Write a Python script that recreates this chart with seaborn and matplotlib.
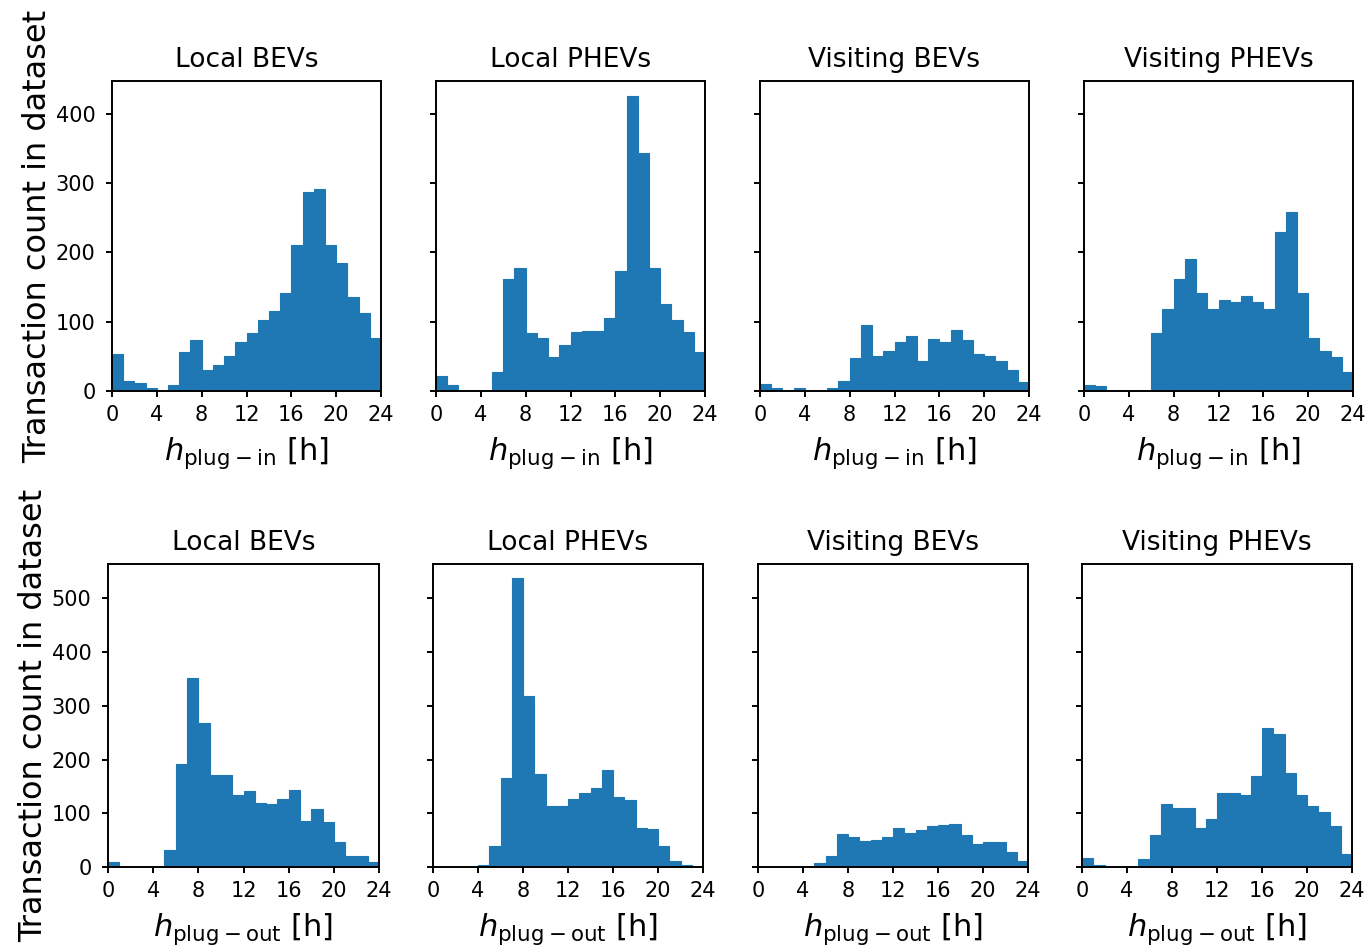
import numpy as np
import pandas as pd
import matplotlib
matplotlib.use("Agg")
import matplotlib.pyplot as plt
import seaborn as sns

hours = np.arange(24) + 0.5
groups = ["Local BEVs", "Local PHEVs", "Visiting BEVs", "Visiting PHEVs"]

# counts per hour bin
plugInLocalBEV = [53, 15, 11, 4, 0, 9, 56, 73, 31, 37, 50, 70, 83, 102, 116, 142, 210, 287, 292, 210, 184, 135, 113, 77]
plugInLocalPHEV = [21, 8, 0, 0, 0, 27, 162, 177, 83, 77, 49, 66, 85, 86, 86, 106, 173, 426, 344, 178, 125, 102, 85, 56]
plugInVisitBEV = [10, 5, 0, 4, 0, 0, 5, 15, 47, 95, 50, 57, 70, 80, 44, 75, 70, 88, 73, 53, 51, 44, 31, 13]
plugInVisitPHEV = [8, 7, 0, 0, 0, 0, 83, 118, 162, 191, 142, 119, 132, 129, 137, 129, 118, 229, 259, 142, 77, 57, 49, 27]

plugOutLocalBEV = [9, 0, 0, 0, 0, 31, 192, 352, 268, 171, 171, 134, 141, 119, 117, 126, 143, 85, 108, 83, 46, 20, 20, 9]
plugOutLocalPHEV = [0, 0, 0, 0, 3, 40, 165, 537, 318, 173, 113, 113, 126, 137, 147, 180, 130, 124, 72, 70, 40, 11, 3, 0]
plugOutVisitBEV = [0, 0, 0, 0, 0, 7, 20, 61, 55, 48, 50, 55, 72, 63, 68, 76, 78, 80, 59, 42, 46, 46, 27, 11]
plugOutVisitPHEV = [16, 3, 0, 0, 0, 14, 59, 117, 109, 109, 72, 89, 137, 137, 134, 169, 259, 248, 175, 134, 113, 102, 76, 25]

rows = [
    ([plugInLocalBEV, plugInLocalPHEV, plugInVisitBEV, plugInVisitPHEV], r"$h_{\rm plug-in}$ [h]"),
    ([plugOutLocalBEV, plugOutLocalPHEV, plugOutVisitBEV, plugOutVisitPHEV], r"$h_{\rm plug-out}$ [h]"),
]

sns.set_theme(style="ticks", rc={
    "axes.edgecolor": "black",
    "axes.linewidth": 1.4,
    "xtick.major.width": 1.4,
    "ytick.major.width": 1.4,
    "xtick.major.size": 4.3,
    "ytick.major.size": 4.3,
    "xtick.major.pad": 6,
    "ytick.major.pad": 7.5,
    "xtick.color": "black",
    "ytick.color": "black",
    "text.color": "black",
    "axes.labelcolor": "black",
})
plt.rcParams["font.family"] = ["DejaVu Sans"]
plt.rcParams["mathtext.fontset"] = "dejavusans"

fig = plt.figure(figsize=(13.71, 9.48), dpi=100)

# axes boxes in pixels (left, top, right, bottom)
boxes = [
    [(112, 81, 381, 391), (436, 81, 705, 391), (760, 81, 1029, 391), (1084, 81, 1353, 391)],
    [(108, 564, 379, 867), (433, 564, 703, 867), (758, 564, 1028, 867), (1082, 564, 1352, 867)],
]
W, H = 1371.0, 948.0

for r, (series, xLabel) in enumerate(rows):
    first = None
    for c, counts in enumerate(series):
        l, t, rr, b = boxes[r][c]
        ax = fig.add_axes([l / W, 1 - b / H, (rr - l) / W, (b - t) / H], sharey=first)
        if first is None:
            first = ax
        df = pd.DataFrame({"hour": hours, "count": np.asarray(counts, dtype=float)})
        sns.histplot(data=df, x="hour", weights="count", binwidth=1, binrange=(0, 24),
                     color="#1f77b4", alpha=1, edgecolor="#1f77b4", linewidth=0.8, ax=ax)
        ax.set_xlim(0, 24)
        ax.set_xticks(np.arange(0, 25, 4))
        ax.tick_params(labelsize=15)
        ax.set_title(groups[c], fontsize=19, pad=10)
        ax.set_xlabel(xLabel, fontsize=22, labelpad=7)
        if c == 0:
            ax.set_ylabel("Transaction count in dataset", fontsize=23, labelpad=2)
        else:
            ax.set_ylabel("")
            plt.setp(ax.get_yticklabels(), visible=False)
        for s in ax.spines.values():
            s.set_visible(True)
            s.set_zorder(5)
    top = max(max(s) for s in series)
    first.set_ylim(0, top * 1.05)

plt.savefig("out.png", dpi=100)
plt.close()
